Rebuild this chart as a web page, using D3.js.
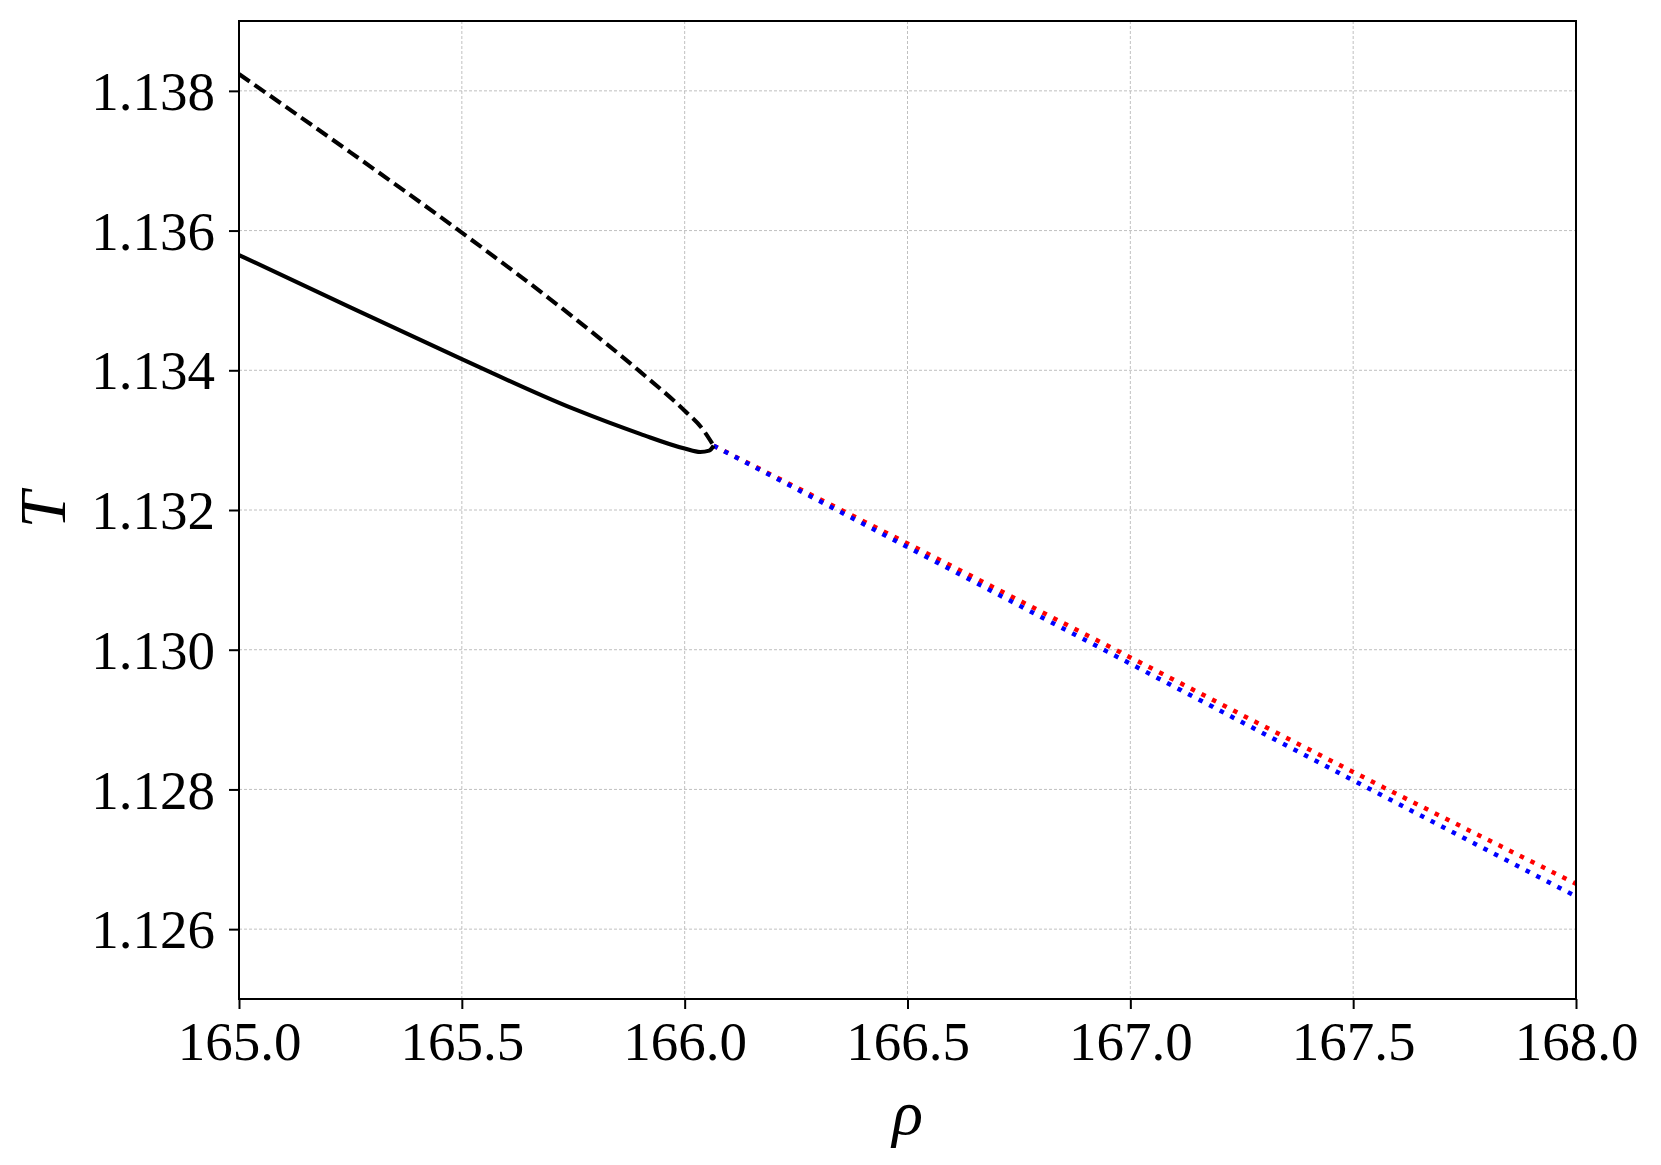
<!DOCTYPE html>
<html>
<head>
<meta charset="utf-8">
<script src="https://cdn.jsdelivr.net/npm/d3@7"></script>
<style>
  body { margin: 0; background: #fff; }
  text { font-family: 'Liberation Serif', 'DejaVu Serif', serif; fill: #000; }
</style>
</head>
<body>
<div class="chart"></div>
<script>
const width = 1661;
const height = 1165;
const margin = { top: 21, right: 85, bottom: 166, left: 239 };

// upper branch (dashed)
const dashedRho = [165.0, 165.25, 165.5, 165.75, 165.9, 166.0, 166.04, 166.065];
const dashedT = [1.13824, 1.13712, 1.13597, 1.13476, 1.13398, 1.13342, 1.13316, 1.13292];
// lower branch (solid)
const solidRho = [165.0, 165.25, 165.5, 165.75, 165.9, 166.0, 166.035, 166.055, 166.065];
const solidT = [1.13565, 1.1349, 1.13416, 1.13345, 1.13309, 1.13288, 1.13283, 1.13285, 1.13292];
// dotted continuations
const dotRho = [166.065, 166.5, 167.0, 167.5, 168.0];
const redT = [1.13292, 1.13152, 1.12989, 1.12825, 1.12665];
const blueT = [1.13292, 1.13147, 1.1298, 1.12813, 1.12647];

const xTicks = [165.0, 165.5, 166.0, 166.5, 167.0, 167.5, 168.0];
const yTicks = [1.126, 1.128, 1.13, 1.132, 1.134, 1.136, 1.138];

const innerW = width - margin.left - margin.right;
const innerH = height - margin.top - margin.bottom;

const x = d3.scaleLinear().domain([165, 168]).range([0, innerW]);
const y = d3.scaleLinear().domain([1.125, 1.139]).range([innerH, 0]);

const svg = d3
  .select('.chart')
  .append('svg')
  .attr('width', width)
  .attr('height', height)
  .append('g')
  .attr('transform', `translate(${margin.left}, ${margin.top})`);

// grid
svg
  .append('g')
  .selectAll('line')
  .data(xTicks)
  .enter()
  .append('line')
  .attr('x1', d => x(d))
  .attr('x2', d => x(d))
  .attr('y1', 0)
  .attr('y2', innerH)
  .attr('stroke', '#b0b0b0')
  .attr('stroke-width', 0.8)
  .attr('stroke-dasharray', '3,2');
svg
  .append('g')
  .selectAll('line')
  .data(yTicks)
  .enter()
  .append('line')
  .attr('x1', 0)
  .attr('x2', innerW)
  .attr('y1', d => y(d))
  .attr('y2', d => y(d))
  .attr('stroke', '#b0b0b0')
  .attr('stroke-width', 0.8)
  .attr('stroke-dasharray', '3,2');

const line = d3
  .line()
  .x(d => x(d[0]))
  .y(d => y(d[1]))
  .curve(d3.curveMonotoneX);

const plot = svg.append('g');

plot
  .append('path')
  .datum(dotRho.map((r, i) => [r, redT[i]]))
  .attr('d', line)
  .attr('fill', 'none')
  .attr('stroke', '#ff0000')
  .attr('stroke-width', 4.5)
  .attr('stroke-dasharray', '4.5,7.4');
plot
  .append('path')
  .datum(dotRho.map((r, i) => [r, blueT[i]]))
  .attr('d', line)
  .attr('fill', 'none')
  .attr('stroke', '#0000ff')
  .attr('stroke-width', 4.5)
  .attr('stroke-dasharray', '4.5,7.4');

plot
  .append('path')
  .datum(solidRho.map((r, i) => [r, solidT[i]]))
  .attr('d', line)
  .attr('fill', 'none')
  .attr('stroke', '#000')
  .attr('stroke-width', 4.1);
plot
  .append('path')
  .datum(dashedRho.map((r, i) => [r, dashedT[i]]))
  .attr('d', line)
  .attr('fill', 'none')
  .attr('stroke', '#000')
  .attr('stroke-width', 4.1)
  .attr('stroke-dasharray', '13,6');

// axes
const xAxis = svg
  .append('g')
  .attr('transform', `translate(0, ${innerH})`)
  .call(d3.axisBottom(x).tickValues(xTicks).tickFormat(d3.format('.1f')).tickSizeInner(10).tickSizeOuter(0).tickPadding(12));
const yAxis = svg
  .append('g')
  .call(d3.axisLeft(y).tickValues(yTicks).tickFormat(d3.format('.3f')).tickSizeInner(10).tickSizeOuter(0).tickPadding(14));

[xAxis, yAxis].forEach(a => {
  a.select('.domain').remove();
  a.selectAll('line').attr('stroke', '#000').attr('stroke-width', 2);
  a.selectAll('text').style('font-size', '55px').attr('fill', '#000');
});
yAxis.selectAll('text').attr('dy', '0.34em');
xAxis.selectAll('text').attr('dy', '0.7em');

svg
  .append('rect')
  .attr('width', innerW)
  .attr('height', innerH)
  .attr('fill', 'none')
  .attr('stroke', '#000')
  .attr('stroke-width', 2);

svg
  .append('text')
  .attr('x', innerW / 2)
  .attr('y', innerH + 135)
  .attr('text-anchor', 'middle')
  .style('font-size', '64px')
  .style('font-style', 'italic')
  .text('ρ');

svg
  .append('text')
  .attr('transform', `translate(${-174}, ${innerH / 2}) rotate(-90)`)
  .attr('text-anchor', 'middle')
  .style('font-size', '66px')
  .style('font-style', 'italic')
  .text('T');
</script>
</body>
</html>
